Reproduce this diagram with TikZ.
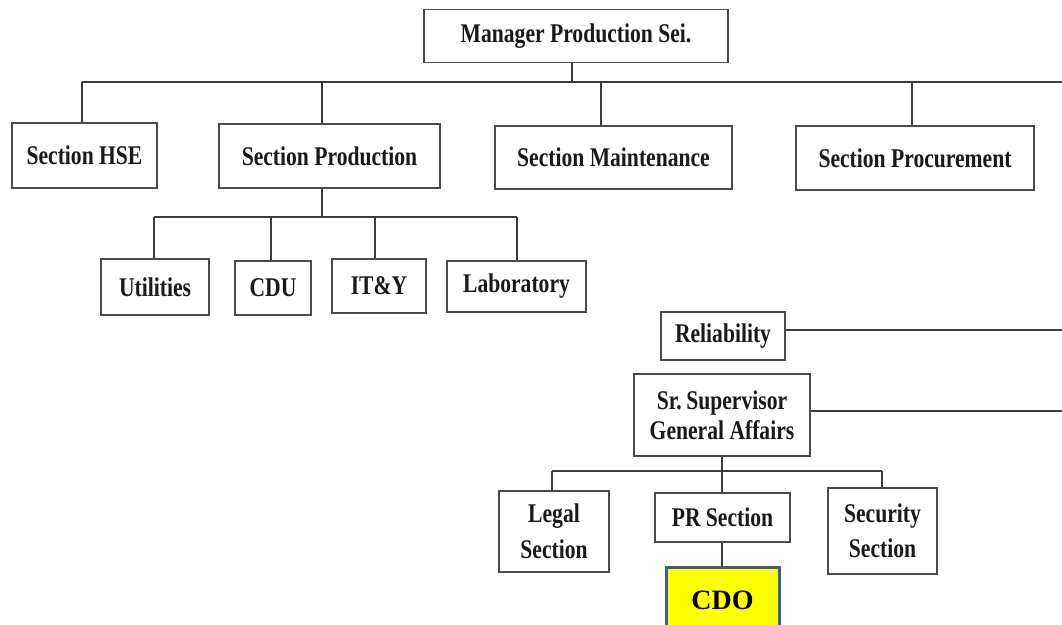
\documentclass[tikz,border=0pt]{standalone}
\usepackage{fontspec}
\setmainfont{Liberation Serif}[FakeStretch=0.8]
\newfontfamily\cdofont{Liberation Serif}
\definecolor{boxline}{HTML}{4A4A4A}
\definecolor{conline}{HTML}{3C3C3C}
\definecolor{cdoblue}{HTML}{3B5E8C}
\definecolor{cdoyellow}{HTML}{FFFF00}
\begin{document}
\begin{tikzpicture}[x=1pt,y=-1pt,
  box/.style={draw=boxline, line width=1.8pt, fill=white, inner sep=0pt, align=center,
    font=\bfseries\fontsize{27}{30}\selectfont, text=black!90},
  conn/.style={draw=conline, line width=1.5pt},
  cdobox/.style={draw=cdoblue, line width=3pt, fill=cdoyellow, inner sep=0pt,
    font=\cdofont\bfseries\fontsize{28}{32}\selectfont}]
\useasboundingbox (0,0) rectangle (1062,624);
\clip (0,0) rectangle (1062,624);

% nodes
\node[box, minimum width=304, minimum height=53] (mgr) at (576,36) {Manager Production Sei.};
\node[box, minimum width=145, minimum height=65] (hse) at (84.5,155.5) {Section HSE};
\node[box, minimum width=221, minimum height=64] (prod) at (329.5,156) {Section Production};
\node[box, minimum width=237, minimum height=63] (maint) at (613.5,157.5) {Section Maintenance};
\node[box, minimum width=238, minimum height=64] (proc) at (915,158) {Section Procurement};

\node[box, minimum width=108, minimum height=56] (util) at (155,287) {Utilities};
\node[box, minimum width=76, minimum height=54] (cdu) at (273,288) {CDU};
\node[box, minimum width=94, minimum height=54] (ity) at (379,286) {IT\&Y};
\node[box, minimum width=139, minimum height=51] (lab) at (516.5,286.5) {Laboratory};

\node[box, minimum width=124, minimum height=48] (rel) at (723,336) {Reliability};
\node[box, minimum width=176, minimum height=82] (sup) at (722,415) {Sr.\,Supervisor\\General Affairs};
\node[box, minimum width=110, minimum height=81] (legal) at (554,531.5) {Legal\\[6pt]Section};
\node[box, minimum width=135, minimum height=49] (pr) at (722.5,517.5) {PR Section};
\node[box, minimum width=109, minimum height=86] (sec) at (882.5,531) {Security\\[5pt]Section};
\node[cdobox, minimum width=113, minimum height=66] (cdo) at (722.5,600) {CDO};

% bus coordinates
\coordinate (bus1) at (82,82);
\coordinate (bus1r) at (1062,82);
\coordinate (bus2l) at (154,217);
\coordinate (bus2r) at (517,217);
\coordinate (bus3l) at (552,471);
\coordinate (bus3r) at (882,471);
\coordinate (edge) at (1062,0);

% top level connectors
\draw[conn] (bus1) -- (bus1r);
\draw[conn] ([xshift=-4pt]mgr.south) -- ([xshift=-4pt]mgr.south |- bus1);
\draw[conn] ([xshift=-2.5pt]hse.north) -- ([xshift=-2.5pt]hse.north |- bus1);
\draw[conn] ([xshift=-7.5pt]prod.north) -- ([xshift=-7.5pt]prod.north |- bus1);
\draw[conn] ([xshift=-12.5pt]maint.north) -- ([xshift=-12.5pt]maint.north |- bus1);
\draw[conn] ([xshift=-3pt]proc.north) -- ([xshift=-3pt]proc.north |- bus1);

% production children
\draw[conn] ([xshift=-7.5pt]prod.south) -- ([xshift=-7.5pt]prod.south |- bus2l);
\draw[conn] (bus2l) -- (bus2r);
\draw[conn] ([xshift=-1pt]util.north) -- ([xshift=-1pt]util.north |- bus2l);
\draw[conn] ([xshift=-2pt]cdu.north) -- ([xshift=-2pt]cdu.north |- bus2l);
\draw[conn] ([xshift=-4pt]ity.north) -- ([xshift=-4pt]ity.north |- bus2l);
\draw[conn] ([xshift=0.5pt]lab.north) -- ([xshift=0.5pt]lab.north |- bus2l);

% reliability / supervisor lines to the right
\draw[conn] ([yshift=6pt]rel.east) -- ([yshift=6pt]rel.east -| edge);
\draw[conn] ([yshift=4pt]sup.east) -- ([yshift=4pt]sup.east -| edge);

% supervisor children
\draw[conn] (sup.south) -- (sup.south |- bus3l);
\draw[conn] (bus3l) -- (bus3r);
\draw[conn] ([xshift=-2pt]legal.north) -- ([xshift=-2pt]legal.north |- bus3l);
\draw[conn] ([xshift=-0.5pt]pr.north) -- ([xshift=-0.5pt]pr.north |- bus3l);
\draw[conn] ([xshift=-0.5pt]sec.north) -- ([xshift=-0.5pt]sec.north |- bus3l);
\draw[conn] ([xshift=-0.5pt]pr.south) -- ([xshift=-0.5pt]cdo.north);
\end{tikzpicture}
\end{document}
